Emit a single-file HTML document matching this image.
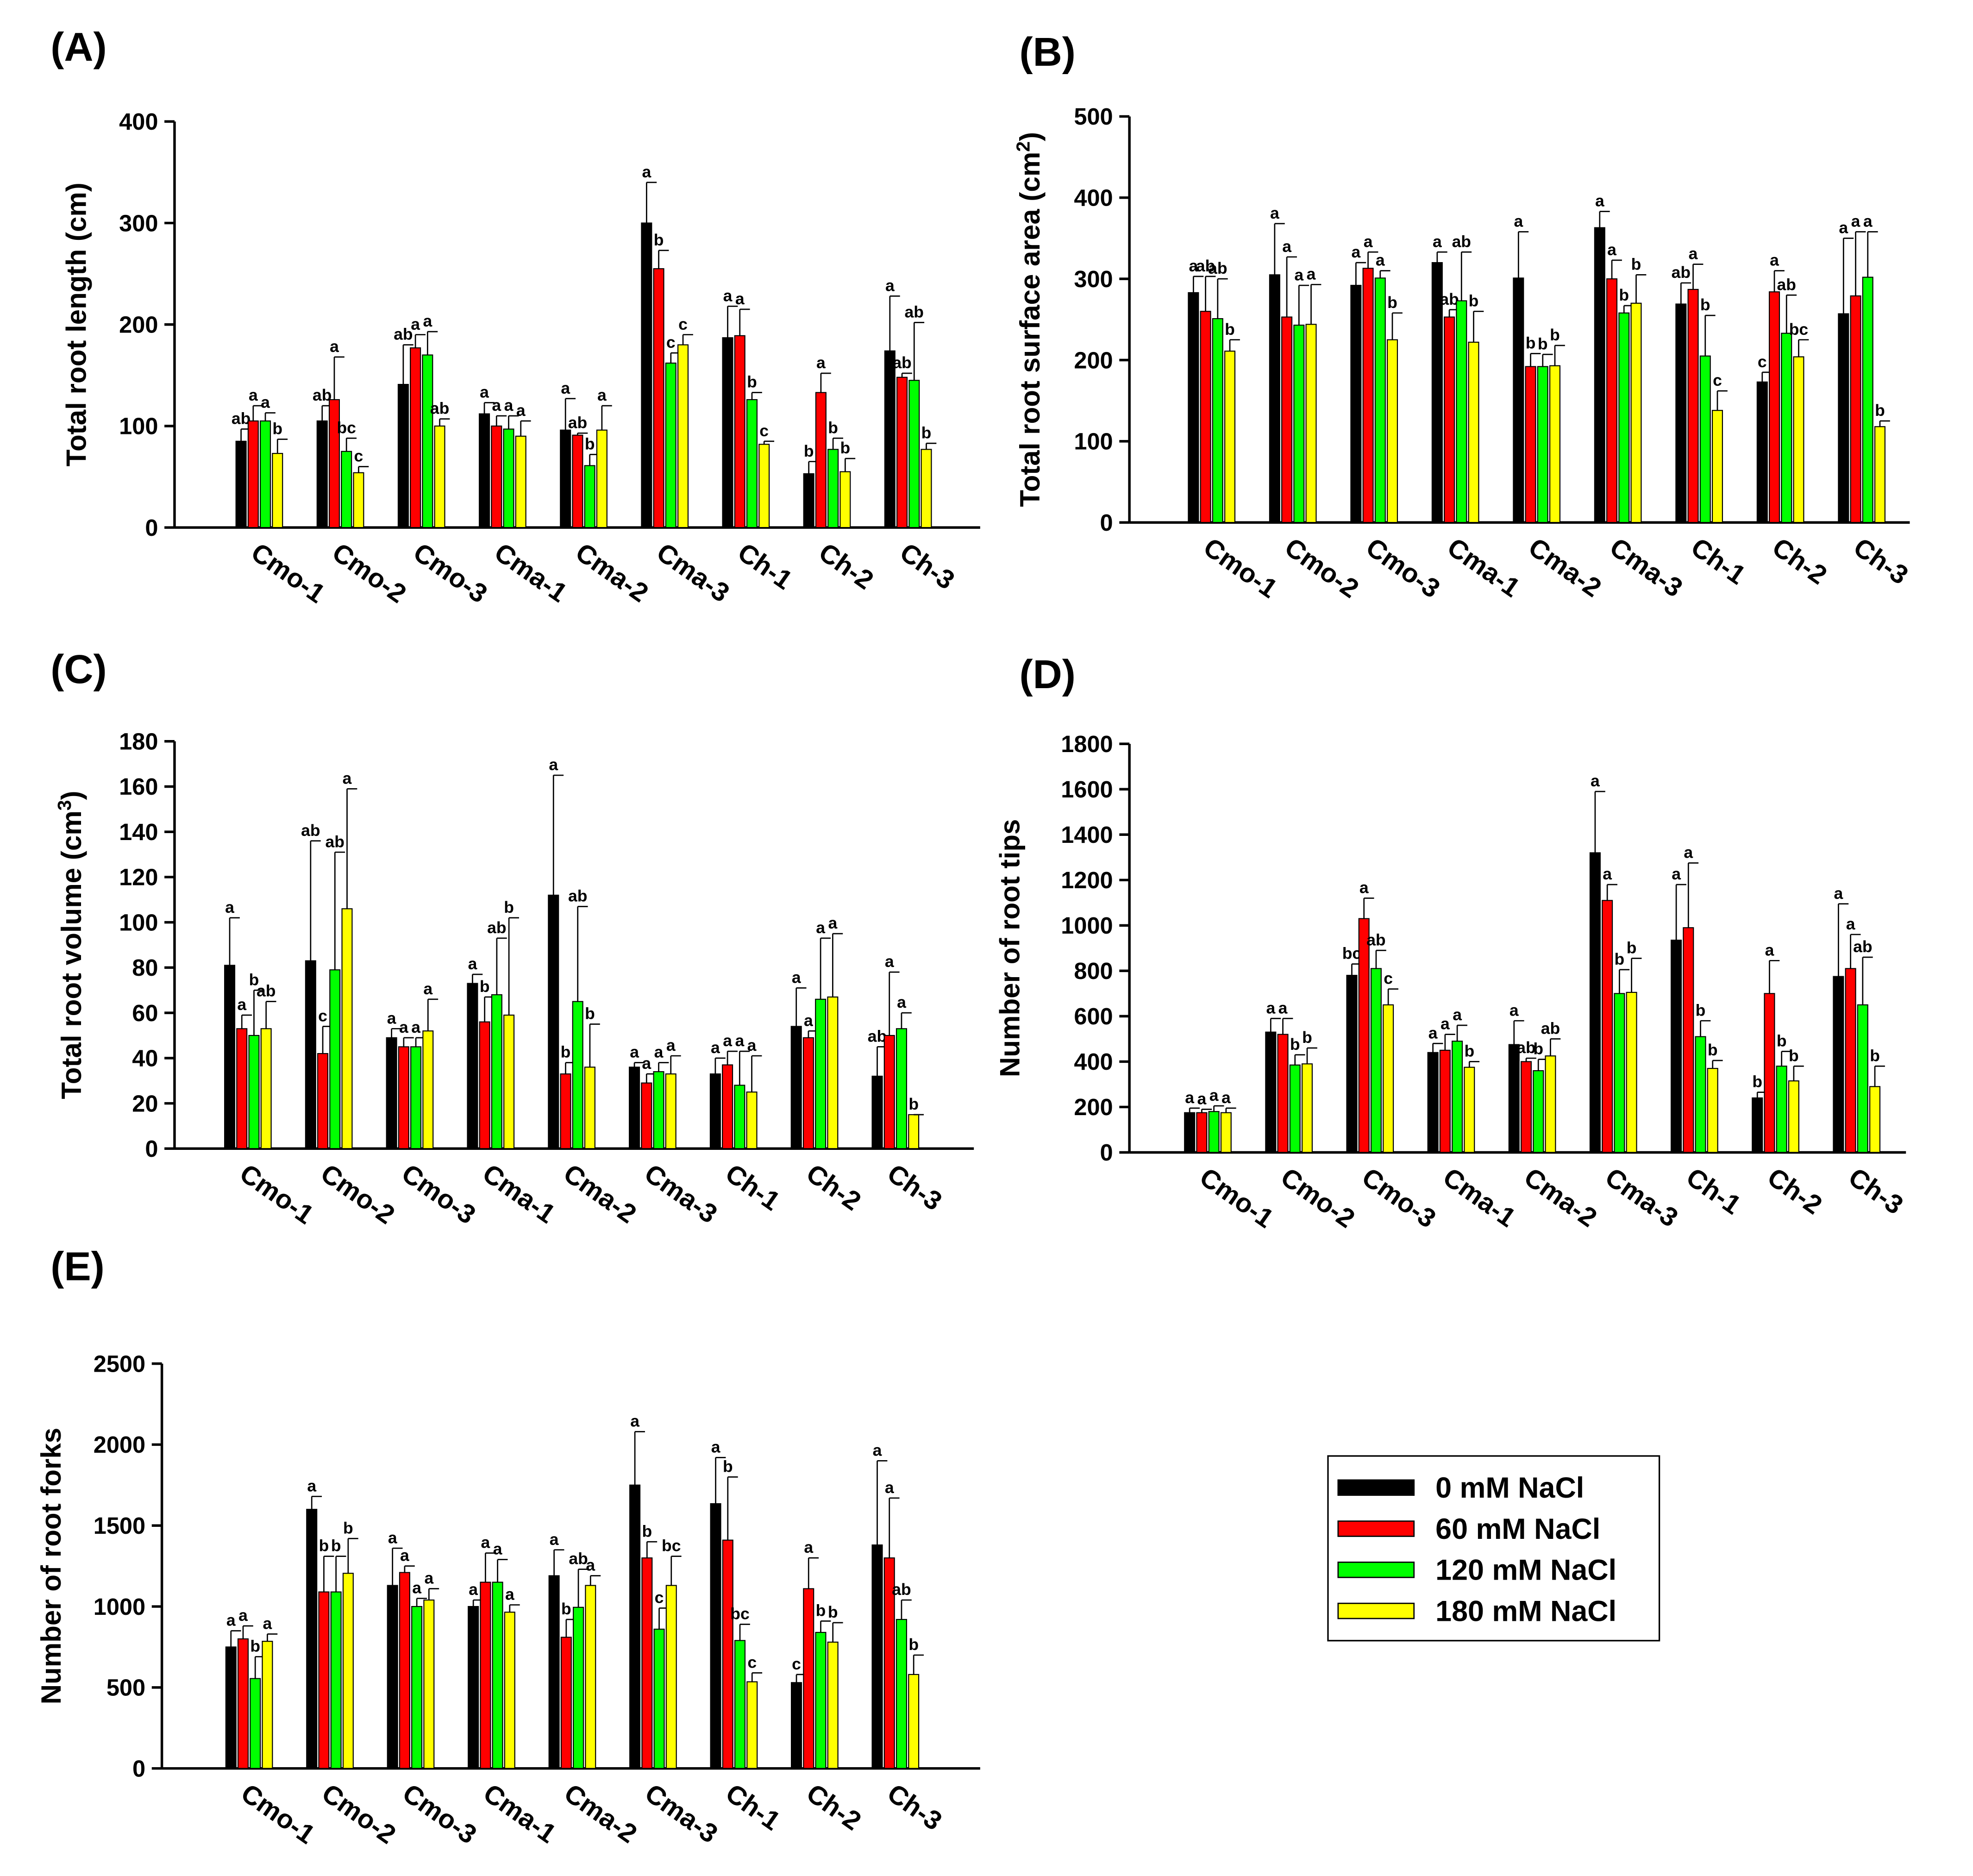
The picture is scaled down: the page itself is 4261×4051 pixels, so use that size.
<!DOCTYPE html>
<html><head><meta charset="utf-8"><style>
html,body{margin:0;padding:0;background:#fff}
svg{display:block}
text{font-family:"Liberation Sans",Arial,sans-serif;font-weight:bold;fill:#000}
</style></head><body>
<svg id="chart" xmlns="http://www.w3.org/2000/svg" width="4261" height="4051" viewBox="0 0 1560 1483"></svg>
<script>
const categories=["Cmo-1","Cmo-2","Cmo-3","Cma-1","Cma-2","Cma-3","Ch-1","Ch-2","Ch-3"];
const seriesNames=["0 mM NaCl","60 mM NaCl","120 mM NaCl","180 mM NaCl"];
const colors=["#000000","#ff0000","#00ff00","#ffff00"];
// Panel A: total root length
const aMeans=[[85,105,105,73],[105,126,75,54],[141,177,170,100],[112,100,97,90],[96,91,61,96],[300,255,162,180],[187,189,126,82],[53,133,77,55],[174,148,145,77]];
const aErr=[[97,120,113,87],[120,168,88,60],[180,190,193,107],[123,110,110,105],[127,93,72,120],[340,273,172,190],[218,215,133,85],[65,152,88,68],[228,152,202,83]];
const aLet=[["ab","a","a","b"],["ab","a","bc","c"],["ab","a","a","ab"],["a","a","a","a"],["a","ab","b","a"],["a","b","c","c"],["a","a","b","c"],["b","a","b","b"],["a","ab","ab","b"]];
const aTicks=[0,100,200,300,400];
// Panel B: surface area
const bMeans=[[283,260,251,211],[305,253,243,244],[292,313,301,225],[320,253,273,222],[301,192,192,193],[363,300,258,270],[269,287,205,138],[173,284,233,204],[257,279,302,118]];
const bErr=[[303,303,300,225],[368,327,292,293],[320,333,310,258],[333,262,333,260],[358,208,207,218],[383,323,267,305],[295,318,255,162],[185,310,280,225],[350,358,358,125]];
const bLet=[["a","ab","ab","b"],["a","a","a","a"],["a","a","a","b"],["a","ab","ab","b"],["a","b","b","b"],["a","a","b","b"],["ab","a","b","c"],["c","a","ab","bc"],["a","a","a","b"]];
const bTicks=[0,100,200,300,400,500];
// Panel C: volume
const cMeans=[[81,53,50,53],[83,42,79,106],[49,45,45,52],[73,56,68,59],[112,33,65,36],[36,29,34,33],[33,37,28,25],[54,49,66,67],[32,50,53,15]];
const cErr=[[102,59,70,65],[136,54,131,159],[53,49,49,66],[77,67,93,102],[165,38,107,55],[38,33,38,41],[40,43,43,41],[71,52,93,95],[45,78,60,15]];
const cLet=[["a","a","b","ab"],["ab","c","ab","a"],["a","a","a","a"],["a","b","ab","b"],["a","b","ab","b"],["a","a","a","a"],["a","a","a","a"],["a","a","a","a"],["ab","a","a","b"]];
const cTicks=[0,20,40,60,80,100,120,140,160,180];
// Panel D: root tips
const dMeans=[[175,175,180,175],[530,520,385,390],[780,1030,810,650],[440,450,490,375],[475,400,360,425],[1320,1110,700,705],[935,990,510,370],[240,700,380,315],[775,810,650,290]];
const dErr=[[195,190,205,195],[590,590,430,460],[830,1120,890,720],[480,520,560,400],[580,415,410,500],[1590,1180,805,855],[1180,1275,580,405],[265,845,445,380],[1095,960,860,380]];
const dLet=[["a","a","a","a"],["a","a","b","b"],["bc","a","ab","c"],["a","a","a","b"],["a","ab","b","ab"],["a","a","b","b"],["a","a","b","b"],["b","a","b","b"],["a","a","ab","b"]];
const dTicks=[0,200,400,600,800,1000,1200,1400,1600,1800];
// Panel E: forks
const eMeans=[[750,800,555,785],[1600,1090,1090,1205],[1130,1210,1000,1040],[1000,1150,1150,965],[1190,810,995,1130],[1750,1300,860,1130],[1635,1410,790,535],[530,1110,840,780],[1380,1300,920,580]];
const eErr=[[850,880,690,830],[1680,1310,1310,1420],[1360,1250,1050,1110],[1040,1330,1290,1010],[1350,920,1230,1190],[2080,1400,990,1310],[1920,1800,890,590],[580,1300,910,900],[1900,1670,1040,700]];
const eLet=[["a","a","b","a"],["a","b","b","b"],["a","a","a","a"],["a","a","a","a"],["a","b","ab","a"],["a","b","c","bc"],["a","b","bc","c"],["c","a","b","b"],["a","a","ab","b"]];
const eTicks=[0,500,1000,1500,2000,2500];

const NS="http://www.w3.org/2000/svg";
const svg=document.getElementById("chart");
function mk(tag,attrs,parent,txt){const e=document.createElementNS(NS,tag);for(const k in attrs)e.setAttribute(k,attrs[k]);if(txt!==undefined)e.textContent=txt;(parent||svg).appendChild(e);return e;}

function panel(cfg,means,errs,lets,ticks){
  const g=mk("g",{});
  
  
  const ymax=ticks[ticks.length-1];
  const yS=v=>cfg.y0-(v/ymax)*(cfg.y0-cfg.yTop);
  const step=(cfg.gLast-cfg.gFirst)/(categories.length-1);
  const xS=i=>cfg.gFirst+i*step;
  const t=mk("text",{x:cfg.lx,y:cfg.ly,"font-size":32},g,"("+cfg.id.toUpperCase()+")");
  
  
  const ax=mk("line",{x1:cfg.x0,y1:cfg.y0,x2:cfg.x0,y2:cfg.yTop,stroke:"#000","stroke-width":2},g);
  
  
  const xa=mk("line",{x1:cfg.x0,y1:cfg.y0,x2:cfg.x1,y2:cfg.y0,stroke:"#000","stroke-width":2},g);
  
  
  ticks.forEach(v=>{
    const y=yS(v);
    mk("line",{x1:cfg.x0-8,y1:y,x2:cfg.x0,y2:y,stroke:"#000","stroke-width":2},g);
    const tl=mk("text",{x:cfg.x0-13,y:y+6.5,"font-size":18.5,"text-anchor":"end"},g,String(v));
    
    
  });
  const yt=mk("text",{x:0,y:0,"font-size":22,"text-anchor":"middle",transform:`translate(${cfg.tx},${(cfg.y0+cfg.yTop)/2}) rotate(-90)`},g);
  
  
  yt.innerHTML=cfg.title;
  categories.forEach((c,i)=>{
    const gc=xS(i);
    for(let s=0;s<4;s++){
      const bx=gc+(s-1.5)*9.6-4;
      const top=yS(means[i][s]);
      const r=mk("rect",{x:bx,y:top,width:8,height:cfg.y0-top,fill:colors[s],stroke:"#000","stroke-width":0.8},g);
      
      
      const et=yS(errs[i][s]);
      mk("line",{x1:bx+4,y1:top,x2:bx+4,y2:et,stroke:"#000","stroke-width":1},g);
      mk("line",{x1:bx+4,y1:et,x2:bx+12,y2:et,stroke:"#000","stroke-width":1},g);
      const lt=mk("text",{x:bx+4,y:et-4,"font-size":13,"text-anchor":"middle"},g,lets[i][s]);
      
      
    }
    const xl=mk("text",{x:0,y:0,"font-size":21,transform:`translate(${gc-8},${cfg.y0+23}) rotate(35)`},g,c);
    
    
  });
}
panel({id:"a",lx:40,ly:48,x0:138,x1:775,y0:417,yTop:96,gFirst:205,gLast:718,tx:68,title:"Total root length (cm)"},aMeans,aErr,aLet,aTicks);
panel({id:"b",lx:806,ly:52,x0:893,x1:1510,y0:413,yTop:92,gFirst:958,gLast:1472,tx:822,title:"Total root surface area (cm<tspan font-size='15' dy='-8'>2</tspan><tspan dy='8'>)</tspan>"},bMeans,bErr,bLet,bTicks);
panel({id:"c",lx:40,ly:540,x0:138,x1:770,y0:908,yTop:586,gFirst:196,gLast:708,tx:64,title:"Total root volume (cm<tspan font-size='15' dy='-8'>3</tspan><tspan dy='8'>)</tspan>"},cMeans,cErr,cLet,cTicks);
panel({id:"d",lx:806,ly:544,x0:893,x1:1507,y0:911,yTop:588,gFirst:955,gLast:1468,tx:806,title:"Number of root tips"},dMeans,dErr,dLet,dTicks);
panel({id:"e",lx:40,ly:1012,x0:128,x1:775,y0:1398,yTop:1078,gFirst:197,gLast:708,tx:48,title:"Number of root forks"},eMeans,eErr,eLet,eTicks);

const lg=mk("g",{});


mk("rect",{x:1050,y:1151,width:262,height:146,fill:"#fff",stroke:"#000","stroke-width":1.2},lg);
seriesNames.forEach((n,i)=>{
  const y=1176+i*32.5;
  const sw=mk("rect",{x:1058,y:y-6,width:60,height:12,fill:colors[i],stroke:"#000","stroke-width":1},lg);
  
  
  const tx=mk("text",{x:1135,y:y+8,"font-size":23},lg,n);
  
  
});
</script>
</body></html>
